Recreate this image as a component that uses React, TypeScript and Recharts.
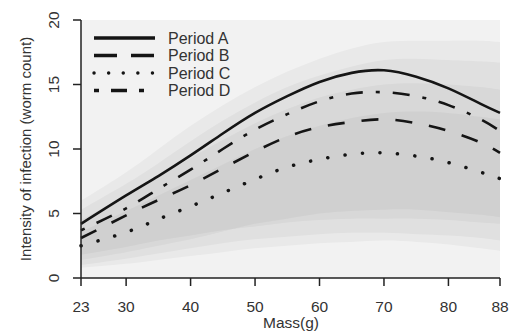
import React from "react";
import { Area, ComposedChart, Line, ReferenceArea, XAxis, YAxis } from "recharts";

const massValues = [23, 30, 35, 40, 45, 50, 55, 60, 65, 70, 75, 80, 85, 88];
const xTicks = [23, 30, 40, 50, 60, 70, 80, 88];
const yTicks = [0, 5, 10, 15, 20];

// fitted curves
const periodA = [4.2, 6.4, 7.9, 9.5, 11.2, 12.8, 14.1, 15.2, 15.9, 16.1, 15.6, 14.7, 13.5, 12.8];
const periodB = [3.1, 4.85, 6.05, 7.2, 8.5, 9.8, 10.95, 11.7, 12.1, 12.3, 12.0, 11.4, 10.5, 9.7];
const periodC = [2.5, 3.55, 4.55, 5.55, 6.6, 7.65, 8.6, 9.2, 9.6, 9.7, 9.45, 8.95, 8.2, 7.7];
const periodD = [3.7, 5.4, 6.9, 8.4, 10.0, 11.5, 12.7, 13.7, 14.3, 14.4, 14.1, 13.4, 12.3, 11.4];

// confidence bands
const bandAHigh = [6.0, 8.2, 10.0, 11.8, 13.4, 14.8, 16.0, 17.0, 17.8, 18.3, 18.4, 18.4, 18.4, 18.3];
const bandALow = [1.0, 1.5, 1.9, 2.3, 2.7, 3.0, 3.2, 3.4, 3.5, 3.5, 3.4, 3.3, 3.1, 2.9];
const bandDHigh = [5.3, 7.3, 8.9, 10.6, 12.2, 13.6, 14.8, 15.7, 16.4, 16.9, 17.0, 16.9, 16.8, 16.7];
const bandDLow = [0.8, 1.1, 1.4, 1.7, 2.0, 2.3, 2.5, 2.7, 2.8, 2.9, 2.8, 2.6, 2.3, 2.1];
const bandBHigh = [4.5, 6.4, 7.8, 9.3, 10.7, 12.0, 13.1, 14.0, 14.6, 15.0, 15.1, 15.0, 14.8, 14.6];
const bandBLow = [1.8, 2.4, 2.9, 3.3, 3.7, 4.0, 4.3, 4.5, 4.6, 4.6, 4.6, 4.5, 4.3, 4.2];
const bandCHigh = [3.6, 5.2, 6.4, 7.6, 8.8, 10.0, 11.0, 11.8, 12.4, 12.8, 12.9, 12.8, 12.5, 12.3];
const bandCLow = [1.4, 2.0, 2.5, 3.0, 3.6, 4.2, 4.6, 5.0, 5.2, 5.3, 5.3, 5.1, 4.9, 4.7];

const legendItems = [
    { label: "Period A", dash: undefined, cap: "butt" },
    { label: "Period B", dash: "23 14", cap: "butt" },
    { label: "Period C", dash: "0.1 14.5", cap: "round" },
    { label: "Period D", dash: "5 12 16 12", cap: "butt" },
];

const data = massValues.map((mass, i) => ({
    mass,
    a: periodA[i],
    b: periodB[i],
    c: periodC[i],
    d: periodD[i],
    bandA: [bandALow[i], bandAHigh[i]],
    bandB: [bandBLow[i], bandBHigh[i]],
    bandC: [bandCLow[i], bandCHigh[i]],
    bandD: [bandDLow[i], bandDHigh[i]],
}));

const FONT = "'Liberation Sans', Arial, sans-serif";
const TEXT = "#333";
const INK = "#151515";

const YTick = (props: any) => {
    const { y, payload } = props;
    const cx = 45;
    return (
        <text
            x={cx}
            y={y}
            dy="0.36em"
            textAnchor="middle"
            transform={`rotate(-90, ${cx}, ${y})`}
            fontSize={15.5}
            fontFamily={FONT}
            fill={TEXT}
        >
            {payload.value}
        </text>
    );
};

const XTick = (props: any) => {
    const { x, payload } = props;
    return (
        <text x={x} y={304} textAnchor="middle" fontSize={15.5} fontFamily={FONT} fill={TEXT}>
            {payload.value}
        </text>
    );
};

export default function App() {
    return (
        <div style={{ position: "relative", width: 519, height: 332 }}>
            <ComposedChart
                width={519}
                height={332}
                data={data}
                margin={{ top: 12, right: 27, bottom: 0, left: 0 }}
            >
                <XAxis
                    dataKey="mass"
                    type="number"
                    domain={[23, 88]}
                    ticks={xTicks}
                    height={62}
                    tickSize={8}
                    tick={<XTick />}
                    axisLine={{ stroke: "#222", strokeWidth: 1.5 }}
                    tickLine={{ stroke: "#222", strokeWidth: 1.5 }}
                />
                <YAxis
                    type="number"
                    domain={[0, 20]}
                    ticks={yTicks}
                    width={73}
                    tickSize={8}
                    tick={<YTick />}
                    axisLine={{ stroke: "#222", strokeWidth: 1.5 }}
                    tickLine={{ stroke: "#222", strokeWidth: 1.5 }}
                />
                <ReferenceArea x1={23} x2={88} y1={0} y2={20} fill="#f2f2f2" fillOpacity={1} stroke="none" />
                <Area dataKey="bandA" type="natural" stroke="none" fill="#000" fillOpacity={0.035} isAnimationActive={false} />
                <Area dataKey="bandD" type="natural" stroke="none" fill="#000" fillOpacity={0.035} isAnimationActive={false} />
                <Area dataKey="bandB" type="natural" stroke="none" fill="#000" fillOpacity={0.035} isAnimationActive={false} />
                <Area dataKey="bandC" type="natural" stroke="none" fill="#000" fillOpacity={0.035} isAnimationActive={false} />
                <Line dataKey="c" type="natural" stroke={INK} strokeWidth={3.5} strokeDasharray="0.1 17.4" strokeLinecap="round" dot={false} isAnimationActive={false} />
                <Line dataKey="b" type="natural" stroke={INK} strokeWidth={2.6} strokeDasharray="17 17" dot={false} isAnimationActive={false} />
                <Line dataKey="d" type="natural" stroke={INK} strokeWidth={2.6} strokeDasharray="4 13 17 13" dot={false} isAnimationActive={false} />
                <Line dataKey="a" type="natural" stroke={INK} strokeWidth={2.6} dot={false} isAnimationActive={false} />
            </ComposedChart>
            <svg width={519} height={332} style={{ position: "absolute", left: 0, top: 0, pointerEvents: "none" }}>
                {legendItems.map((item, i) => {
                    const y = 30 + i * 17.5;
                    return (
                        <g key={item.label}>
                            <line
                                x1={86}
                                x2={147}
                                y1={y}
                                y2={y}
                                stroke={INK}
                                strokeWidth={3.4}
                                strokeDasharray={item.dash}
                                strokeLinecap={item.cap as any}
                            />
                            <text x={160} y={y} dy="0.36em" fontSize={16} fontFamily={FONT} fill={TEXT}>
                                {item.label}
                            </text>
                        </g>
                    );
                })}
                <text
                    x={18}
                    y={141}
                    dy="0.36em"
                    textAnchor="middle"
                    transform="rotate(-90, 18, 141)"
                    fontSize={15}
                    fontFamily={FONT}
                    fill={TEXT}
                >
                    Intensity of infection (worm count)
                </text>
                <text x={283} y={314} dy="0.36em" textAnchor="middle" fontSize={15.5} fontFamily={FONT} fill={TEXT}>
                    Mass(g)
                </text>
            </svg>
        </div>
    );
}
